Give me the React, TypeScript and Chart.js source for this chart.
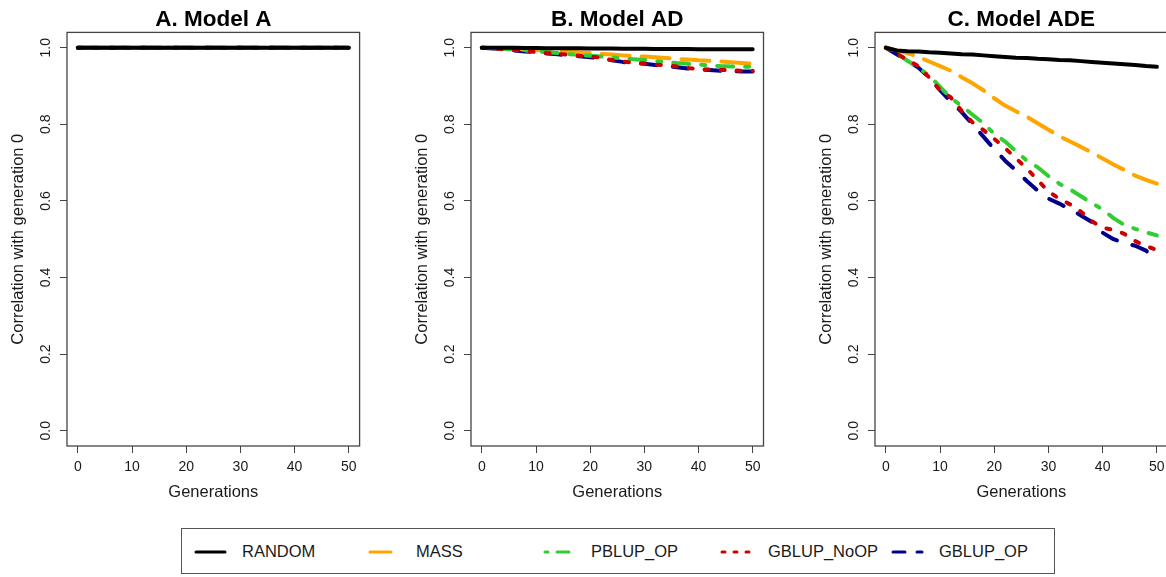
import React, { useEffect, useRef } from 'react';
import { Chart, registerables } from 'chart.js';
Chart.register(...registerables);

// ---------------- data ----------------
const generations = [0, 2, 4, 6, 8, 10, 12, 14, 16, 18, 20, 22, 24, 26, 28, 30, 32, 34, 36, 38, 40, 42, 44, 46, 48, 50];
const seriesNames = ['RANDOM', 'MASS', 'PBLUP_OP', 'GBLUP_NoOP', 'GBLUP_OP'];
const panelTitles = ['A. Model A', 'B. Model AD', 'C. Model ADE'];
const xTicks = [0, 10, 20, 30, 40, 50];
const yTicks = [0, 0.2, 0.4, 0.6, 0.8, 1.0];
const xTitle = 'Generations';
const yTitle = 'Correlation with generation 0';

// Model A: all strategies stay at 1.0
const modelA = [1, 1, 1, 1, 1, 1, 1, 1, 1, 1, 1, 1, 1, 1, 1, 1, 1, 1, 1, 1, 1, 1, 1, 1, 1, 1];

// Model AD
const adRandom = [1.000, 1.000, 0.9998, 0.9996, 0.9993, 0.9991, 0.9989, 0.9987, 0.9985, 0.9983, 0.9981, 0.9979, 0.9977, 0.9975, 0.9973, 0.9971, 0.9969, 0.9968, 0.9966, 0.9965, 0.9963, 0.9962, 0.9961, 0.9960, 0.9959, 0.9958];
const adMass = [1.000, 0.999, 0.998, 0.997, 0.995, 0.994, 0.993, 0.991, 0.990, 0.988, 0.986, 0.984, 0.982, 0.980, 0.978, 0.977, 0.975, 0.973, 0.971, 0.969, 0.967, 0.966, 0.964, 0.962, 0.960, 0.958];
const adPblupOp = [1.000, 0.999, 0.997, 0.995, 0.993, 0.991, 0.988, 0.986, 0.983, 0.981, 0.979, 0.977, 0.975, 0.972, 0.970, 0.968, 0.965, 0.963, 0.960, 0.958, 0.956, 0.954, 0.952, 0.951, 0.950, 0.950];
const adGblupNoOp = [1.000, 0.998, 0.996, 0.994, 0.991, 0.989, 0.986, 0.984, 0.982, 0.979, 0.977, 0.974, 0.968, 0.964, 0.961, 0.959, 0.956, 0.954, 0.951, 0.947, 0.944, 0.943, 0.942, 0.941, 0.940, 0.940];
const adGblupOp = [1.000, 0.998, 0.996, 0.993, 0.990, 0.988, 0.985, 0.983, 0.980, 0.978, 0.975, 0.972, 0.967, 0.963, 0.960, 0.958, 0.955, 0.952, 0.949, 0.946, 0.943, 0.942, 0.940, 0.939, 0.938, 0.938];

// Model ADE
const adeRandom = [1.000, 0.993, 0.991, 0.990, 0.988, 0.987, 0.985, 0.983, 0.982, 0.980, 0.978, 0.976, 0.974, 0.973, 0.971, 0.970, 0.968, 0.967, 0.965, 0.963, 0.961, 0.959, 0.957, 0.955, 0.952, 0.950];
const adeMass = [1.000, 0.993, 0.986, 0.976, 0.964, 0.952, 0.940, 0.923, 0.907, 0.889, 0.868, 0.849, 0.834, 0.820, 0.803, 0.786, 0.769, 0.755, 0.741, 0.726, 0.711, 0.695, 0.681, 0.666, 0.655, 0.645];
const adePblupOp = [1.000, 0.985, 0.966, 0.948, 0.927, 0.898, 0.868, 0.848, 0.825, 0.803, 0.775, 0.755, 0.730, 0.705, 0.688, 0.665, 0.645, 0.630, 0.612, 0.594, 0.578, 0.555, 0.537, 0.527, 0.518, 0.510];
const adeGblupNoOp = [1.000, 0.985, 0.968, 0.952, 0.922, 0.889, 0.870, 0.835, 0.805, 0.785, 0.762, 0.738, 0.711, 0.685, 0.654, 0.625, 0.605, 0.591, 0.572, 0.547, 0.530, 0.524, 0.514, 0.495, 0.482, 0.472];
const adeGblupOp = [1.000, 0.983, 0.966, 0.948, 0.922, 0.889, 0.859, 0.832, 0.800, 0.768, 0.735, 0.705, 0.680, 0.652, 0.627, 0.606, 0.593, 0.578, 0.562, 0.545, 0.517, 0.500, 0.490, 0.483, 0.470, 0.448];

const panelValues = [
  [modelA, modelA, modelA, modelA, modelA],
  [adRandom, adMass, adPblupOp, adGblupNoOp, adGblupOp],
  [adeRandom, adeMass, adePblupOp, adeGblupNoOp, adeGblupOp],
];

// ---------------- styles ----------------
const FONT = '"Liberation Sans", Arial, Helvetica, sans-serif';
const TEXT = '#1a1a1a';
const AXIS = '#444444';
const seriesColors = ['#000000', '#FFA500', '#32CD32', '#CD0000', '#00008B'];
const plotDash = [[], [28, 12], [4, 12, 16, 12], [4, 12], [16, 16]];
const legendDash = ['', '21 9', '3 9 12 9', '3 9', '12 12'];
const drawOrder = [0, 3, 2, 1, 4];
const LINE_W = 4;
const TICK_FONT = 14;

const CANVAS_H = 520;
const AREA_TOP = 32.4;
const AREA_BOTTOM = 446;
const Y_AXIS_W = 67;
const panelAreas = [
  [67.2, 359.8],
  [471, 763.5],
  [874.9, 1167.6],
];
const legendTextX = [241, 415, 590, 767, 938];

function makeDecor(title: string) {
  return {
    id: 'decor',
    afterDraw(chart: any) {
      const { ctx, chartArea } = chart;
      const ys = chart.scales.y;
      ctx.save();
      // box
      ctx.strokeStyle = AXIS;
      ctx.lineWidth = 1.3;
      ctx.strokeRect(chartArea.left, chartArea.top, chartArea.right - chartArea.left, chartArea.bottom - chartArea.top);
      // rotated y tick labels
      ctx.fillStyle = TEXT;
      ctx.font = `${TICK_FONT}px ${FONT}`;
      ctx.textAlign = 'center';
      ctx.textBaseline = 'middle';
      yTicks.forEach((v) => {
        const py = ys.getPixelForValue(v);
        ctx.save();
        ctx.translate(chartArea.left - 21, py);
        ctx.rotate(-Math.PI / 2);
        ctx.fillText(v.toFixed(1), 0, 0);
        ctx.restore();
      });
      // title
      ctx.font = `bold 22.5px ${FONT}`;
      ctx.fillStyle = '#000';
      ctx.fillText(title, (chartArea.left + chartArea.right) / 2, 20);
      ctx.restore();
    },
  };
}

function Panel({ index }: { index: number }) {
  const ref = useRef<HTMLCanvasElement>(null);
  const [areaLeft, areaRight] = panelAreas[index];
  const canvasLeft = areaLeft - Y_AXIS_W;
  const width = Math.ceil(areaRight - canvasLeft + 4);
  const padRight = width - (areaRight - canvasLeft);

  useEffect(() => {
    const values = panelValues[index];
    const chart = new Chart(ref.current as HTMLCanvasElement, {
      type: 'line',
      data: {
        datasets: seriesNames.map((name, i) => ({
          label: name,
          data: generations.map((g, k) => ({ x: g, y: values[i][k] })),
          borderColor: seriesColors[i],
          backgroundColor: seriesColors[i],
          borderWidth: LINE_W,
          borderDash: plotDash[i],
          borderCapStyle: 'round',
          borderJoinStyle: 'round',
          pointRadius: 0,
          tension: 0,
          fill: false,
          order: drawOrder[i],
        })),
      } as any,
      options: {
        responsive: false,
        animation: false,
        events: [],
        layout: { padding: { top: AREA_TOP, left: 0, right: padRight, bottom: 0 } },
        plugins: { legend: { display: false }, tooltip: { enabled: false }, title: { display: false } },
        scales: {
          x: {
            type: 'linear',
            min: -2,
            max: 52,
            afterBuildTicks: (s: any) => {
              s.ticks = xTicks.map((v) => ({ value: v }));
            },
            afterFit: (s: any) => {
              s.height = CANVAS_H - AREA_BOTTOM;
            },
            grid: { drawOnChartArea: false, drawTicks: true, tickLength: 7, color: AXIS, lineWidth: 1 },
            border: { display: false },
            ticks: { color: TEXT, font: { family: FONT, size: TICK_FONT }, padding: 6, maxRotation: 0, autoSkip: false, callback: (v: any) => String(v) },
            title: { display: true, text: xTitle, color: TEXT, font: { family: FONT, size: 16.5 }, padding: { top: 0, bottom: 18 } },
          },
          y: {
            type: 'linear',
            min: -0.04,
            max: 1.04,
            afterBuildTicks: (s: any) => {
              s.ticks = yTicks.map((v) => ({ value: v }));
            },
            afterFit: (s: any) => {
              s.width = Y_AXIS_W;
            },
            grid: { drawOnChartArea: false, drawTicks: true, tickLength: 7, color: AXIS, lineWidth: 1 },
            border: { display: false },
            ticks: { display: false },
            title: { display: true, text: yTitle, color: TEXT, font: { family: FONT, size: 16.5 }, padding: { top: 9, bottom: 0 } },
          },
        },
      } as any,
      plugins: [makeDecor(panelTitles[index])],
    });
    return () => chart.destroy();
  }, [index]);

  return (
    <div style={{ position: 'absolute', left: canvasLeft, top: 0, width, height: CANVAS_H }}>
      <canvas ref={ref} width={width} height={CANVAS_H} style={{ width, height: CANVAS_H, display: 'block' }} />
    </div>
  );
}

function Legend() {
  return (
    <div
      style={{
        position: 'absolute',
        left: 181,
        top: 528,
        width: 874,
        height: 46,
        border: '1px solid #555',
        boxSizing: 'border-box',
      }}
    >
      {seriesNames.map((name, i) => {
        const tx = legendTextX[i] - 181;
        return (
          <React.Fragment key={name}>
            <svg style={{ position: 'absolute', left: tx - 49, top: 17, overflow: 'visible' }} width={34} height={12}>
              <line
                x1={3}
                y1={6}
                x2={32}
                y2={6}
                stroke={seriesColors[i]}
                strokeWidth={3}
                strokeLinecap="round"
                strokeDasharray={legendDash[i] || undefined}
              />
            </svg>
            <span
              style={{
                position: 'absolute',
                left: tx,
                top: 12,
                fontFamily: FONT,
                fontSize: 16.5,
                lineHeight: '20px',
                color: TEXT,
                whiteSpace: 'nowrap',
              }}
            >
              {name}
            </span>
          </React.Fragment>
        );
      })}
    </div>
  );
}

export default function App() {
  return (
    <div style={{ position: 'absolute', left: 0, top: 0, width: 1166, height: 577, overflow: 'hidden', background: '#fff' }}>
      <Panel index={0} />
      <Panel index={1} />
      <Panel index={2} />
      <Legend />
    </div>
  );
}
